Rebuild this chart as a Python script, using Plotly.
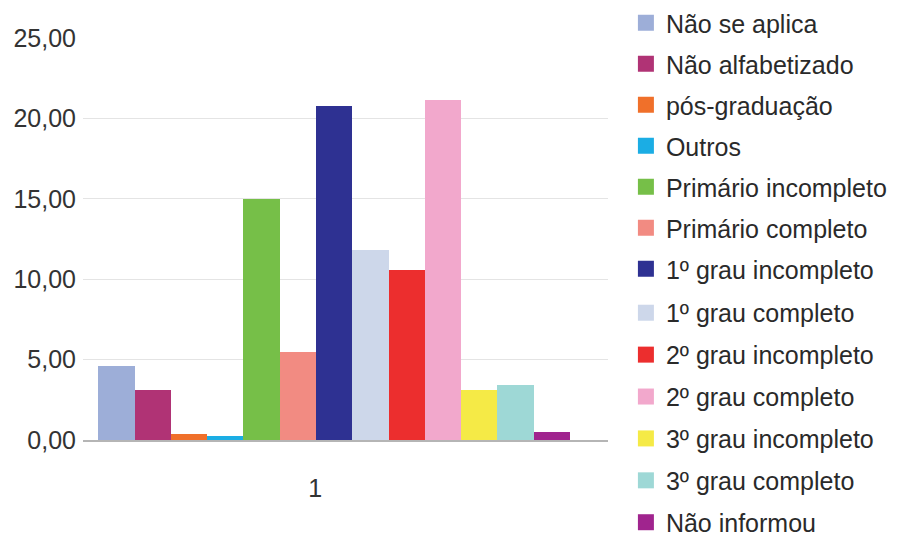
import plotly.graph_objects as go

# Escolaridade (%) - single category, one bar per level
category = ["1"]
levels = [
    "Não se aplica",
    "Não alfabetizado",
    "pós-graduação",
    "Outros",
    "Primário incompleto",
    "Primário completo",
    "1º grau incompleto",
    "1º grau completo",
    "2º grau incompleto",
    "2º grau completo",
    "3º grau incompleto",
    "3º grau completo",
    "Não informou",
]
values = [4.59, 3.14, 0.38, 0.26, 14.97, 5.48, 20.80, 11.84, 10.56, 21.16, 3.09, 3.39, 0.51]
colors = [
    "#9DAED8", "#B03375", "#F0702A", "#1BADE4", "#76BF48", "#F28B82", "#2E3192",
    "#CDD7EA", "#EC2E2E", "#F2A8CC", "#F5EA46", "#9ED8D6", "#A0248E",
]
y_ticks = [0, 5, 10, 15, 20, 25]

FONT = "Liberation Sans, Arial, sans-serif"
SPLIT = 7  # the legend column is drawn as two stacked blocks so it fits the page

fig = go.Figure()
for i, (name, val, col) in enumerate(zip(levels, values, colors)):
    fig.add_trace(go.Bar(
        x=category, y=[val], name=name,
        marker=dict(color=col, line=dict(width=0)),
        legendgroup=f"g{i}", showlegend=False,
    ))
    # legend key: a large square swatch in the bar's colour
    fig.add_trace(go.Scatter(
        x=[None], y=[None], mode="markers", name=name,
        marker=dict(symbol="square", size=16, color=col, line=dict(width=0)),
        legendgroup=f"g{i}", hoverinfo="skip",
        legend="legend" if i < SPLIT else "legend2",
    ))

legend_style = dict(
    xref="container", yref="container", x=0.697, xanchor="left", yanchor="top",
    font=dict(family=FONT, size=25, color="#2a2a2a"),
    traceorder="grouped", maxheight=600, itemsizing="trace",
    bgcolor="rgba(0,0,0,0)", borderwidth=0,
)

fig.update_layout(
    width=898, height=536,
    margin=dict(l=83, r=290, t=38, b=96),
    paper_bgcolor="white", plot_bgcolor="white",
    separators=",.",
    barmode="group", bargap=0, bargroupgap=0,
    font=dict(family=FONT, size=25, color="#333333"),
    showlegend=True,
    legend=dict(legend_style, y=1.0, tracegroupgap=5.5),
    legend2=dict(legend_style, y=0.459, tracegroupgap=6.4),
    xaxis=dict(
        type="category", range=[-0.5324, 0.5806],
        showgrid=False, showline=True, linecolor="#b5b5b5", linewidth=1.5,
        ticks="", ticklabelshift=-19, ticklabelstandoff=25,
        tickfont=dict(family=FONT, size=25, color="#333333"),
    ),
    yaxis=dict(
        range=[0, 25], tickvals=y_ticks, tickformat=".2f",
        showgrid=True, gridcolor="#e4e4e4", gridwidth=1,
        zeroline=False, showline=False, ticks="",
        ticklabelstandoff=6,
        tickfont=dict(family=FONT, size=25, color="#333333"),
    ),
)

fig.write_html("out.html")
